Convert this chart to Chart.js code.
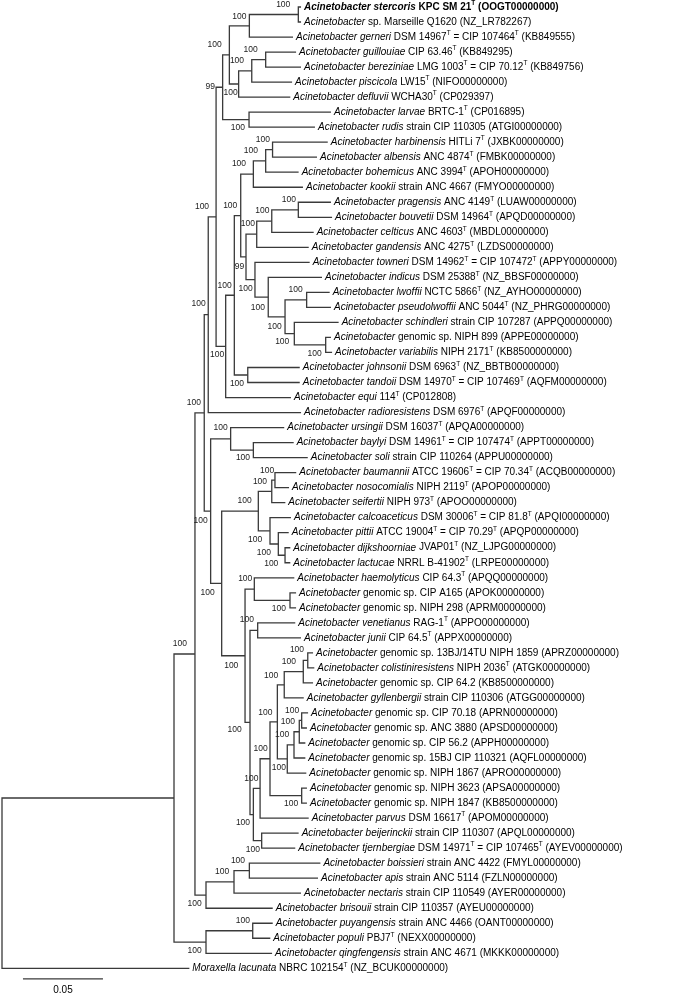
<!DOCTYPE html>
<html lang="en">
<head>
<meta charset="UTF-8">
<title>Acinetobacter phylogenomic tree</title>
<script src="https://cdn.jsdelivr.net/npm/chart.js@4.4.0/dist/chart.umd.min.js"></script>
<style>
  html, body { margin: 0; padding: 0; background: #fff; }
  #wrap { width: 685px; height: 997px; }
</style>
</head>
<body>
<div id="wrap"><canvas id="tree" width="685" height="997"></canvas></div>
<script>
// leaf labels: italic name + the rest (^T = type strain superscript)
const taxa = [
  'Acinetobacter stercoris', 'Acinetobacter', 'Acinetobacter gerneri', 'Acinetobacter guillouiae',
  'Acinetobacter bereziniae', 'Acinetobacter piscicola', 'Acinetobacter defluvii', 'Acinetobacter larvae',
  'Acinetobacter rudis', 'Acinetobacter harbinensis', 'Acinetobacter albensis', 'Acinetobacter bohemicus',
  'Acinetobacter kookii', 'Acinetobacter pragensis', 'Acinetobacter bouvetii', 'Acinetobacter celticus',
  'Acinetobacter gandensis', 'Acinetobacter towneri', 'Acinetobacter indicus', 'Acinetobacter lwoffii',
  'Acinetobacter pseudolwoffii', 'Acinetobacter schindleri', 'Acinetobacter', 'Acinetobacter variabilis',
  'Acinetobacter johnsonii', 'Acinetobacter tandoii', 'Acinetobacter equi', 'Acinetobacter radioresistens',
  'Acinetobacter ursingii', 'Acinetobacter baylyi', 'Acinetobacter soli', 'Acinetobacter baumannii',
  'Acinetobacter nosocomialis', 'Acinetobacter seifertii', 'Acinetobacter calcoaceticus', 'Acinetobacter pittii',
  'Acinetobacter dijkshoorniae', 'Acinetobacter lactucae', 'Acinetobacter haemolyticus', 'Acinetobacter',
  'Acinetobacter', 'Acinetobacter venetianus', 'Acinetobacter junii', 'Acinetobacter',
  'Acinetobacter colistiniresistens', 'Acinetobacter', 'Acinetobacter gyllenbergii', 'Acinetobacter',
  'Acinetobacter', 'Acinetobacter', 'Acinetobacter', 'Acinetobacter',
  'Acinetobacter', 'Acinetobacter', 'Acinetobacter parvus', 'Acinetobacter beijerinckii',
  'Acinetobacter tjernbergiae', 'Acinetobacter boissieri', 'Acinetobacter apis', 'Acinetobacter nectaris',
  'Acinetobacter brisouii', 'Acinetobacter puyangensis', 'Acinetobacter populi', 'Acinetobacter qingfengensis',
  'Moraxella lacunata'
];
const strains = [
  'KPC SM 21^T (OOGT00000000)', 'sp. Marseille Q1620 (NZ_LR782267)', 'DSM 14967^T = CIP 107464^T (KB849555)',
  'CIP 63.46^T (KB849295)', 'LMG 1003^T = CIP 70.12^T (KB849756)', 'LW15^T (NIFO00000000)',
  'WCHA30^T (CP029397)', 'BRTC-1^T (CP016895)', 'strain CIP 110305 (ATGI00000000)',
  'HITLi 7^T (JXBK00000000)', 'ANC 4874^T (FMBK00000000)', 'ANC 3994^T (APOH00000000)',
  'strain ANC 4667 (FMYO00000000)', 'ANC 4149^T (LUAW00000000)', 'DSM 14964^T (APQD00000000)',
  'ANC 4603^T (MBDL00000000)', 'ANC 4275^T (LZDS00000000)', 'DSM 14962^T = CIP 107472^T (APPY00000000)',
  'DSM 25388^T (NZ_BBSF00000000)', 'NCTC 5866^T (NZ_AYHO00000000)', 'ANC 5044^T (NZ_PHRG00000000)',
  'strain CIP 107287 (APPQ00000000)', 'genomic sp. NIPH 899 (APPE00000000)', 'NIPH 2171^T (KB8500000000)',
  'DSM 6963^T (NZ_BBTB00000000)', 'DSM 14970^T = CIP 107469^T (AQFM00000000)', '114^T (CP012808)',
  'DSM 6976^T (APQF00000000)', 'DSM 16037^T (APQA00000000)', 'DSM 14961^T = CIP 107474^T (APPT00000000)',
  'strain CIP 110264 (APPU00000000)', 'ATCC 19606^T = CIP 70.34^T (ACQB00000000)', 'NIPH 2119^T (APOP00000000)',
  'NIPH 973^T (APOO00000000)', 'DSM 30006^T = CIP 81.8^T (APQI00000000)', 'ATCC 19004^T = CIP 70.29^T (APQP00000000)',
  'JVAP01^T (NZ_LJPG00000000)', 'NRRL B-41902^T (LRPE00000000)', 'CIP 64.3^T (APQQ00000000)',
  'genomic sp. CIP A165 (APOK00000000)', 'genomic sp. NIPH 298 (APRM00000000)', 'RAG-1^T (APPO00000000)',
  'CIP 64.5^T (APPX00000000)', 'genomic sp. 13BJ/14TU NIPH 1859 (APRZ00000000)', 'NIPH 2036^T (ATGK00000000)',
  'genomic sp. CIP 64.2 (KB8500000000)', 'strain CIP 110306 (ATGG00000000)', 'genomic sp. CIP 70.18 (APRN00000000)',
  'genomic sp. ANC 3880 (APSD00000000)', 'genomic sp. CIP 56.2 (APPH00000000)', 'genomic sp. 15BJ CIP 110321 (AQFL00000000)',
  'genomic sp. NIPH 1867 (APRO00000000)', 'genomic sp. NIPH 3623 (APSA00000000)', 'genomic sp. NIPH 1847 (KB8500000000)',
  'DSM 16617^T (APOM00000000)', 'strain CIP 110307 (APQL00000000)', 'DSM 14971^T = CIP 107465^T (AYEV00000000)',
  'strain ANC 4422 (FMYL00000000)', 'strain ANC 5114 (FZLN00000000)', 'strain CIP 110549 (AYER00000000)',
  'strain CIP 110357 (AYEU00000000)', 'strain ANC 4466 (OANT00000000)', 'PBJ7^T (NEXX00000000)',
  'strain ANC 4671 (MKKK00000000)', 'NBRC 102154^T (NZ_BCUK00000000)'
];
// distance from root (substitutions/site) of each tip
const leafDepth = [
  0.1869, 0.1869, 0.1819, 0.1838, 0.1869, 0.1813, 0.1802, 0.2056, 0.1956, 0.2036,
  0.1969, 0.1854, 0.1881, 0.2056, 0.2063, 0.1948, 0.1917, 0.1923, 0.2000, 0.2048,
  0.2056, 0.2104, 0.2056, 0.2063, 0.1861, 0.1861, 0.1806, 0.1869, 0.1764, 0.1823,
  0.1911, 0.1839, 0.1794, 0.1771, 0.1806, 0.1792, 0.1802, 0.1802, 0.1827, 0.1838,
  0.1838, 0.1833, 0.1869, 0.1944, 0.1952, 0.1944, 0.1886, 0.1913, 0.1906, 0.1896,
  0.1896, 0.1902, 0.1906, 0.1906, 0.1917, 0.1854, 0.1833, 0.1990, 0.1975, 0.1869,
  0.1692, 0.1692, 0.1677, 0.1688, 0.1171
];
const boldLeaf = 0;

// internal nodes: children are tip indices (numbers) or node ids
const nodeIds = ['root', 'ingroup', 'PQ', 'PP', 'V', 'BR', 'BAN', 'BA', 'N5', 'N4', 'N3', 'N2', 'N1', 'NA', 'NSM',
  'NGBPD', 'NGBP', 'NGB', 'LR', 'T', 'R', 'JT', 'P', 'HABK', 'HAB', 'HA', 'Q', 'GAN', 'PBC', 'PB', 'TOW', 'IND',
  'LWS', 'LW', 'SGV', 'GV', 'W', 'URS', 'BS', 'Y', 'BAU', 'BNS', 'BN', 'CPDL', 'PDL', 'DL', 'Z', 'H1', 'PAIR',
  'Z2', 'H2', 'N253', 'N260', 'N270', 'N277', 'G3', 'G3a', 'G3b', 'G1', 'G1a', 'G1b', 'G1c', 'NN', 'BT'];
const nodeChildren = [
  ['ingroup', 64], ['V', 'PQ'], ['PP', 63], [61, 62], ['N5', 'BR'], ['BAN', 60], ['BA', 59], [57, 58],
  ['N4', 'W'], ['N3', 27], ['N2', 'T'], ['N1', 'LR'], ['NA', 'NGBPD'], ['NSM', 2], [0, 1],
  ['NGBP', 6], ['NGB', 5], [3, 4], [7, 8], ['R', 26], ['P', 'JT'], [24, 25], ['HABK', 'Q'], ['HAB', 12],
  ['HA', 11], [9, 10], ['GAN', 'TOW'], ['PBC', 16], ['PB', 15], [13, 14], [17, 'IND'], [18, 'LWS'],
  ['LW', 'SGV'], [19, 20], [21, 'GV'], [22, 23], ['URS', 'Y'], [28, 'BS'], [29, 30], ['BAU', 'Z'],
  ['BNS', 'CPDL'], ['BN', 33], [31, 32], [34, 'PDL'], [35, 'DL'], [36, 37], ['H1', 'Z2'], [38, 'PAIR'], [39, 40],
  ['H2', 'N253'], [41, 42], ['N260', 'BT'], ['N270', 54], ['N277', 'NN'], ['G3', 'G1'], ['G3a', 46], ['G3b', 45], [43, 44],
  ['G1a', 51], ['G1b', 50], ['G1c', 49], [47, 48], [52, 53], [55, 56]
];
const nodeDepth = [
  0, 0.1075, 0.1275, 0.1567, 0.1206, 0.1275, 0.1450, 0.1546, 0.1264, 0.1289, 0.1338, 0.1379, 0.1421, 0.1546, 0.1852,
  0.1479, 0.1561, 0.1648, 0.1544, 0.1398, 0.1452, 0.1536, 0.1492, 0.1571, 0.1648, 0.1691, 0.1525, 0.1592, 0.1686, 0.1852,
  0.1581, 0.1664, 0.1769, 0.1904, 0.1827, 0.2023, 0.1304, 0.1429, 0.1571, 0.1373, 0.1602, 0.1686, 0.1706, 0.1675,
  0.1727, 0.1769, 0.1519, 0.1577, 0.1800, 0.1550, 0.1598, 0.1571, 0.1613, 0.1675, 0.1721, 0.1764, 0.1883, 0.1911,
  0.1783, 0.1825, 0.1858, 0.1873, 0.1873, 0.1623
];
const nodeSupport = [
  null, null, 100, 100, 100, 100, 100, 100, 100, 100, 100, 99, 100, 100, 100,
  100, 100, 100, 100, 100, 100, 100, 100, 100, 100, 100, 99, 100, 100, 100,
  100, 100, 100, 100, 100, 100, 100, 100, 100, 100, 100, 100, 100, 100,
  100, 100, 100, 100, 100, 100, 100, 100, 100, 100, 100, 100, 100, 100,
  100, 100, 100, 100, 100, 100
];
const scaleBarStart = 0.0131;
const scaleBarLength = 0.05;

// where each support value sits relative to its node (px: right edge, vertical centre)
const labelOffset = {
  NSM: [-8, -10], NA: [-3, -9.5], NGB: [-8, -9.5], NGBP: [-7.7, -9.8], NGBPD: [-1, 9], N1: [-7.6, -9.8],
  N2: [-7.7, -0.5], LR: [-4, 8.4], N3: [-7, -10], HA: [-2.7, -10.4], HAB: [-7.7, -10], HABK: [-7.3, -10],
  P: [-3.4, -9.6], PB: [-2.3, -9.8], PBC: [-2.4, -10], GAN: [-1.7, -11], Q: [-1.7, 9.5], TOW: [-2.3, 9],
  IND: [-3.3, 10.7], LW: [-4, -10], LWS: [-3.3, 9.5], SGV: [-5, 8], GV: [-4, 8.3], R: [-2.6, -10],
  JT: [-3.7, 8.3], T: [-1.4, 8.6], N4: [-2.6, -10.7], N5: [-3.3, -9.8], URS: [-3, -11.6], BS: [-3.3, 7.2],
  W: [-3, 9.3], BN: [-0.7, -9.4], BNS: [-4.7, -9.7], DL: [-6.7, 8.8], PDL: [-7.3, 8.3], CPDL: [-7.7, 8.5],
  BAU: [-6.6, -10.4], Y: [-7, 9], PAIR: [-4, 8], H1: [-2, -10.7], H2: [-3.7, -10.3], Z: [-6.7, 10],
  Z2: [-8.3, 7.6], N253: [-3.3, 8.2], BT: [-1.7, 8.7], N260: [-1.7, -10], N270: [-2.3, -10.4], NN: [-3.4, 8.5],
  N277: [-5, -9.2], G3: [-6, -8.8], G3a: [-7.3, -9.9], G3b: [-3.7, -10.4], G1: [-1.3, 8.4], G1a: [-4.7, -9.8],
  G1b: [-4.3, -10], G1c: [-2.4, -9.7], V: [-8, -10.6], BR: [-4.3, 8.3], BAN: [-4.7, -10], BA: [-4.3, -10],
  PQ: [-4.3, 8.7], PP: [-2.7, -10]
};

const LINE = '#3a3a3a';
const FONT = '"Liberation Sans", Arial, sans-serif';
const SCALE_ROW = 64.7;

// positions of tips / nodes in (depth, row) space
const nodeIndex = {};
nodeIds.forEach((id, i) => { nodeIndex[id] = i; });
const rowCache = {};
function depthOf(c) { return typeof c === 'number' ? leafDepth[c] : nodeDepth[nodeIndex[c]]; }
function rowOf(c) {
  if (typeof c === 'number') return c;
  if (rowCache[c] === undefined) {
    const kids = nodeChildren[nodeIndex[c]];
    rowCache[c] = (rowOf(kids[0]) + rowOf(kids[kids.length - 1])) / 2;
  }
  return rowCache[c];
}

// one elbow per internal node: child -> node -> node -> child
const datasets = nodeIds.map((id, i) => {
  const [a, b] = nodeChildren[i];
  const nx = nodeDepth[i];
  return {
    data: [
      { x: depthOf(a), y: rowOf(a) }, { x: nx, y: rowOf(a) },
      { x: nx, y: rowOf(b) }, { x: depthOf(b), y: rowOf(b) }
    ],
    showLine: true, borderColor: LINE, borderWidth: 1.3, pointRadius: 0,
    borderJoinStyle: 'miter', fill: false, clip: false, tension: 0
  };
});
datasets.push({
  data: [{ x: scaleBarStart, y: SCALE_ROW }, { x: scaleBarStart + scaleBarLength, y: SCALE_ROW }],
  showLine: true, borderColor: LINE, borderWidth: 1.3, pointRadius: 0, fill: false, clip: false
});

function drawLeaf(ctx, px, py, i) {
  const w = i === boldLeaf ? 'bold ' : '';
  let cx = px;
  ctx.font = `italic ${w}10px ${FONT}`;
  ctx.fillText(taxa[i], cx, py);
  cx += ctx.measureText(taxa[i]).width;
  const parts = (' ' + strains[i]).split('^T');
  parts.forEach((p, k) => {
    ctx.font = `${w}10px ${FONT}`;
    ctx.fillText(p, cx, py);
    cx += ctx.measureText(p).width;
    if (k < parts.length - 1) {
      ctx.font = `${w}6.5px ${FONT}`;
      ctx.fillText('T', cx, py - 3.5);
      cx += ctx.measureText('T').width;
    }
  });
}

const treeText = {
  id: 'treeText',
  afterDatasetsDraw(chart) {
    const { ctx, scales: { x, y } } = chart;
    ctx.save();
    ctx.fillStyle = '#000';
    ctx.textBaseline = 'middle';
    ctx.textAlign = 'left';
    taxa.forEach((t, i) => drawLeaf(ctx, x.getPixelForValue(leafDepth[i]) + 3, y.getPixelForValue(i), i));

    ctx.fillStyle = '#222';
    ctx.textAlign = 'right';
    ctx.font = `8.5px ${FONT}`;
    nodeIds.forEach((id, i) => {
      if (nodeSupport[i] == null) return;
      const off = labelOffset[id] || [-3, -10];
      ctx.fillText(String(nodeSupport[i]),
        x.getPixelForValue(nodeDepth[i]) + off[0], y.getPixelForValue(rowOf(id)) + off[1]);
    });

    ctx.fillStyle = '#000';
    ctx.textAlign = 'center';
    ctx.font = `10px ${FONT}`;
    ctx.fillText(String(scaleBarLength),
      x.getPixelForValue(scaleBarStart + scaleBarLength / 2), y.getPixelForValue(SCALE_ROW) + 11);
    ctx.restore();
  }
};

new Chart(document.getElementById('tree'), {
  type: 'scatter',
  data: { datasets },
  options: {
    responsive: false,
    animation: false,
    devicePixelRatio: 1,
    events: [],
    layout: { padding: 0 },
    plugins: { legend: { display: false }, tooltip: { enabled: false } },
    scales: {
      x: { type: 'linear', display: false, min: -0.00125, max: 0.426875 },
      y: { type: 'linear', display: false, reverse: true, min: -0.466, max: 65.91 }
    }
  },
  plugins: [treeText]
});
</script>
</body>
</html>
